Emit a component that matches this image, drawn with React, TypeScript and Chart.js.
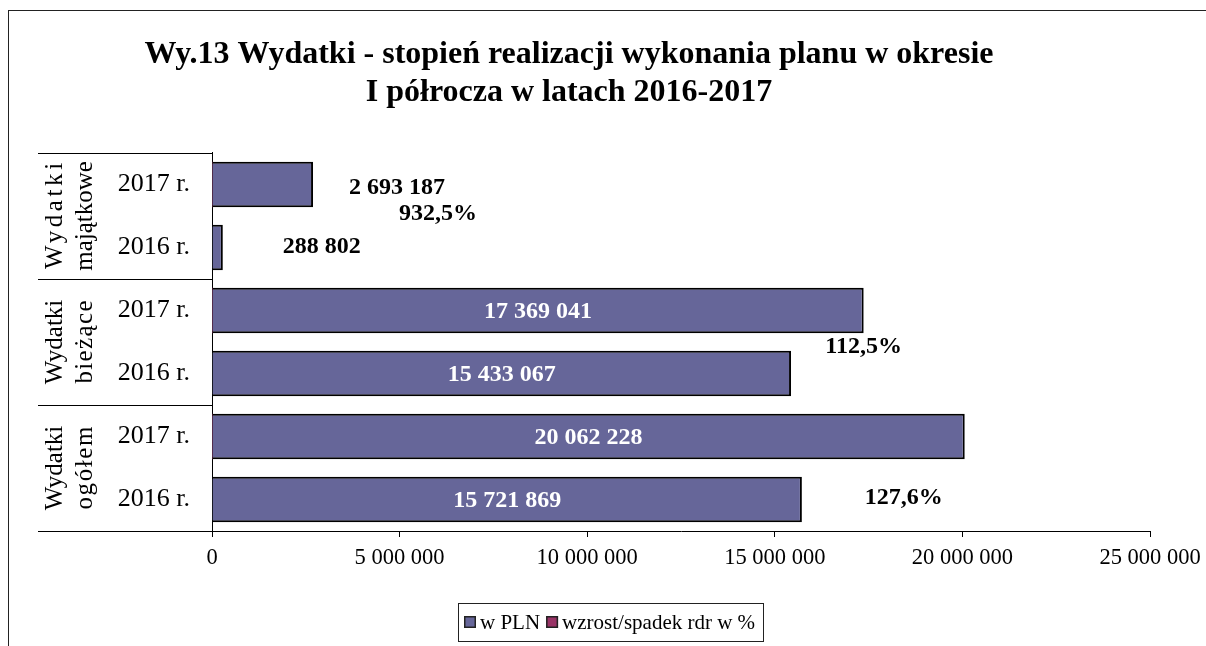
import React, { useEffect, useRef } from "react";
import { Chart, registerables } from "chart.js";

Chart.register(...registerables);

// ---------- data ----------
const titleLines = [
  "Wy.13 Wydatki - stopień realizacji wykonania planu w okresie",
  "I półrocza w latach 2016-2017",
];
const categories = ["2017 r.", "2016 r.", "2017 r.", "2016 r.", "2017 r.", "2016 r."];
const groups = [
  ["Wydatki", "majątkowe"],
  ["Wydatki", "bieżące"],
  ["Wydatki", "ogółem"],
];
const seriesNames = ["w PLN", "wzrost/spadek rdr w %"];
const valuesPLN = [2693187, 288802, 17369041, 15433067, 20062228, 15721869];
const changePct: (number | null)[] = [932.5, null, 112.5, null, 127.6, null];
const xTicks = [0, 5000000, 10000000, 15000000, 20000000, 25000000];

// ---------- styles ----------
const FONT = '"Liberation Serif", "Times New Roman", serif';
const COLORS = ["#666699", "#993366"];
const labelStyle = {
  insideMin: 5000000,
  outsideShift: { 0: [36, 3], 1: [60, -1] } as Record<number, number[]>,
  pctShift: { 0: [125, 29], 2: [0, 36], 4: [-61, 61] } as Record<number, number[]>,
};

const fmt = (n: number) => String(Math.round(n)).replace(/\B(?=(\d{3})+(?!\d))/g, " ");
const fmtPct = (v: number) => v.toFixed(1).replace(".", ",") + "%";

const labelsPlugin = {
  id: "barLabels",
  afterDatasetsDraw(chart: any) {
    const ctx = chart.ctx;
    const meta0 = chart.getDatasetMeta(0);
    const meta1 = chart.getDatasetMeta(1);
    ctx.save();
    ctx.font = `bold 24px ${FONT}`;
    ctx.textBaseline = "middle";
    meta0.data.forEach((bar: any, i: number) => {
      const v = valuesPLN[i];
      const { x, y, base } = bar.getProps(["x", "y", "base"], true);
      if (v >= labelStyle.insideMin) {
        ctx.fillStyle = "#ffffff";
        ctx.textAlign = "center";
        ctx.fillText(fmt(v), (x + base) / 2, y + 1);
      } else {
        const s = labelStyle.outsideShift[i] || [8, 0];
        ctx.fillStyle = "#000000";
        ctx.textAlign = "left";
        ctx.fillText(fmt(v), x + s[0], y + s[1]);
      }
    });
    meta1.data.forEach((el: any, i: number) => {
      const v = changePct[i];
      if (v == null) return;
      const b0 = meta0.data[i];
      const s = labelStyle.pctShift[i] || [0, 0];
      ctx.fillStyle = "#000000";
      ctx.textAlign = "center";
      ctx.fillText(fmtPct(v), b0.x + s[0], el.y + s[1]);
    });
    ctx.restore();
  },
};

const groupPlugin = {
  id: "groupAxis",
  afterDraw(chart: any) {
    const ctx = chart.ctx;
    const y = chart.scales.y;
    const area = chart.chartArea;
    const rowH = y.getPixelForValue(1) - y.getPixelForValue(0);
    const x0 = 29;
    ctx.save();
    ctx.strokeStyle = "#000";
    ctx.lineWidth = 1;
    const bounds: number[] = [];
    groups.forEach((_, gi) => bounds.push(y.getPixelForValue(gi * 2) - rowH / 2));
    bounds.push(y.getPixelForValue(categories.length - 1) + rowH / 2);
    bounds.forEach((b) => {
      const yy = Math.round(b) + 0.5;
      ctx.beginPath();
      ctx.moveTo(x0, yy);
      ctx.lineTo(area.left, yy);
      ctx.stroke();
    });
    ctx.font = `25px ${FONT}`;
    ctx.fillStyle = "#000";
    ctx.textAlign = "center";
    ctx.textBaseline = "middle";
    groups.forEach((lines, gi) => {
      const cy = (y.getPixelForValue(gi * 2) + y.getPixelForValue(gi * 2 + 1)) / 2;
      (ctx as any).letterSpacing = "0px";
      const widths = lines.map((l) => ctx.measureText(l).width);
      const target = Math.max(...widths);
      ctx.save();
      ctx.translate(61, cy);
      ctx.rotate(-Math.PI / 2);
      lines.forEach((l, j) => {
        const n = Array.from(l).length;
        const ls = n > 1 ? (target - widths[j]) / n : 0;
        (ctx as any).letterSpacing = `${ls}px`;
        ctx.fillText(l, ls / 2, (j - (lines.length - 1) / 2) * 30);
      });
      (ctx as any).letterSpacing = "0px";
      ctx.restore();
    });
    ctx.restore();
  },
};

const legendPlugin = {
  id: "boxLegend",
  afterDraw(chart: any) {
    const ctx = chart.ctx;
    ctx.save();
    ctx.font = `21px ${FONT}`;
    const sq = 12, gap = 4, itemGap = 6, padL = 6, padR = 8;
    const items = chart.data.datasets.map((d: any) => ({
      label: d.label,
      color: d.backgroundColor,
      w: ctx.measureText(d.label).width,
    }));
    const total =
      padL + padR + items.reduce((s: number, it: any) => s + sq + gap + it.w, 0) + itemGap * (items.length - 1);
    const cx = 602, top = 592, h = 38;
    const left = Math.round(cx - total / 2);
    ctx.strokeStyle = "#222";
    ctx.lineWidth = 1;
    ctx.strokeRect(left + 0.5, top + 0.5, Math.round(total), h);
    let x = left + padL;
    const cy = top + h / 2;
    ctx.textBaseline = "middle";
    ctx.textAlign = "left";
    items.forEach((it: any) => {
      ctx.fillStyle = it.color;
      ctx.fillRect(x, cy - sq / 2, sq, sq);
      ctx.strokeStyle = "#222";
      ctx.lineWidth = 1.5;
      ctx.strokeRect(x + 0.75, cy - sq / 2 + 0.75, sq - 1.5, sq - 1.5);
      x += sq + gap;
      ctx.fillStyle = "#000";
      ctx.fillText(it.label, x, cy + 1);
      x += it.w + itemGap;
    });
    ctx.restore();
  },
};

export default function App() {
  const ref = useRef<HTMLCanvasElement | null>(null);
  useEffect(() => {
    if (!ref.current) return;
    const chart = new Chart(ref.current, {
      type: "bar",
      data: {
        labels: categories,
        datasets: [
          {
            label: seriesNames[0],
            data: valuesPLN,
            backgroundColor: COLORS[0],
            borderColor: "#000",
            borderWidth: 2,
            grouped: false,
            barPercentage: 0.72,
            categoryPercentage: 1,
          } as any,
          {
            label: seriesNames[1],
            data: changePct,
            backgroundColor: COLORS[1],
            borderColor: "#000",
            borderWidth: 0,
            grouped: false,
            barPercentage: 0.72,
            categoryPercentage: 1,
          } as any,
        ],
      },
      options: {
        indexAxis: "y",
        responsive: false,
        animation: false,
        layout: { padding: { left: -21, right: 56, top: 0, bottom: 45 } },
        plugins: {
          legend: { display: false },
          tooltip: { enabled: false },
          title: {
            display: true,
            text: titleLines,
            color: "#000",
            font: { family: FONT, size: 32, weight: "bold", lineHeight: 1.19 },
            padding: { top: 25, bottom: 40.8 },
          },
        },
        scales: {
          x: {
            type: "linear",
            min: 0,
            max: 25000000,
            afterBuildTicks: (s: any) => {
              s.ticks = xTicks.map((v) => ({ value: v }));
            },
            afterFit: (s: any) => {
              s.height = 70;
              s.paddingRight = 0;
              s.paddingLeft = 0;
            },
            grid: { display: true, drawOnChartArea: false, drawTicks: true, tickLength: 6, color: "#000" },
            border: { display: true, color: "#000", width: 1 },
            ticks: {
              color: "#000",
              font: { family: FONT, size: 22.5 },
              padding: 8,
              maxRotation: 0,
              callback: (v: any) => fmt(Number(v)),
            },
          },
          y: {
            type: "category",
            afterFit: (s: any) => {
              s.width = 224;
            },
            grid: { display: false },
            border: { display: true, color: "#000", width: 1 },
            ticks: { color: "#000", font: { family: FONT, size: 26 }, padding: 14 },
          },
        },
      },
      plugins: [labelsPlugin, groupPlugin, legendPlugin],
    });
    return () => chart.destroy();
  }, []);
  return (
    <div
      style={{
        position: "fixed",
        left: 8,
        top: 10,
        width: 1197,
        height: 635,
        borderTop: "1px solid #222",
        borderLeft: "1px solid #222",
        background: "#fff",
      }}
    >
      <canvas ref={ref} width={1197} height={635} style={{ display: "block" }} />
    </div>
  );
}
